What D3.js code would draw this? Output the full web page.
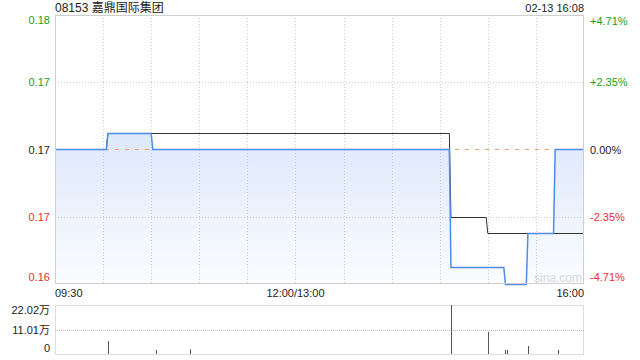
<!DOCTYPE html>
<html><head><meta charset="utf-8">
<script src="https://cdn.jsdelivr.net/npm/d3@7"></script>
<style>
html,body{margin:0;padding:0;background:#fff;}
svg{display:block;font-family:"Liberation Sans",Arial,"Noto Sans CJK SC",sans-serif;}
</style></head>
<body>
<svg id="c" width="640" height="360"></svg>
<script>
// ---- data ----
const title = "08153 嘉鼎国际集团";
const stamp = "02-13 16:08";
const prevClose = 0.170;
const pctRange = 0.0471;
const timeLabels = ["09:30", "12:00/13:00", "16:00"];
const priceTimes = ["09:30","10:02","10:03","10:30","10:31","14:36","14:37","15:10","15:11","15:24","15:25","15:41","15:42","16:00"];
const priceValues = [0.170,0.170,0.171,0.171,0.170,0.170,0.163,0.163,0.162,0.162,0.165,0.165,0.170,0.170];
const avgTimes = ["09:30","10:02","10:03","14:36","14:37","14:59","15:00","16:00"];
const avgValues = [0.170,0.170,0.171,0.171,0.166,0.166,0.165,0.165];
const volTimes = ["10:03","10:33","10:54","14:37","15:00","15:11","15:12","15:25","15:44"];
const volValues = [58000,18000,21000,220200,100000,19000,19000,36000,18000];
const volMax = 220200;

// ---- helpers ----
function minuteIdx(s){
  const [h,m] = s.split(":").map(Number);
  let t = h*60+m-570;
  if (h*60+m >= 780) t -= 60;
  return t;
}
const svg = d3.select("#c");
const L = 55, R = 584, T = 15, B = 284;
const VT = 305, VB = 354;
const x = d3.scaleLinear().domain([0,330]).range([L,R]);
const y = d3.scaleLinear().domain([prevClose*(1-pctRange), prevClose*(1+pctRange)]).range([B,T]);
const yv = d3.scaleLinear().domain([0, volMax]).range([VB,VT]);
const green = "#1a9e1a", red = "#ee2c2c", black = "#222";

// gradient
const defs = svg.append("defs");
const g = defs.append("linearGradient").attr("id","fill").attr("x1",0).attr("y1",0).attr("x2",0).attr("y2",1);
g.append("stop").attr("offset","0%").attr("stop-color","#dde8fb");
g.append("stop").attr("offset","100%").attr("stop-color","#fbfcff");

const pricePts = priceTimes.map((t,i)=>[minuteIdx(t), priceValues[i]]);
const avgPts = avgTimes.map((t,i)=>[minuteIdx(t), avgValues[i]]);

// area
svg.append("path").datum(pricePts)
  .attr("d", d3.area().x(d=>x(d[0])).y0(B).y1(d=>y(d[1])))
  .attr("fill","url(#fill)");

// grid lines
const yTicks = [-1,-0.5,0,0.5,1].map(k=>prevClose*(1+k*pctRange));
const grid = svg.append("g").attr("stroke","#ccc").attr("stroke-dasharray","1,2").attr("stroke-width",1);
[yTicks[1], yTicks[3]].forEach(v=>{
  grid.append("line").attr("x1",L).attr("x2",R).attr("y1",Math.round(y(v))+0.5).attr("y2",Math.round(y(v))+0.5);
});
d3.range(30,330,30).forEach(t=>{
  grid.append("line").attr("x1",Math.round(x(t))+0.5).attr("x2",Math.round(x(t))+0.5).attr("y1",T).attr("y2",B);
});

// prev close dashed line
svg.append("line").attr("x1",L).attr("x2",R).attr("y1",Math.round(y(prevClose))+0.5).attr("y2",Math.round(y(prevClose))+0.5)
  .attr("stroke","#f0a070").attr("stroke-dasharray","4,6").attr("stroke-width",1);

// avg line
svg.append("path").datum(avgPts)
  .attr("d", d3.line().x(d=>x(d[0])).y(d=>Math.round(y(d[1]))+0.5))
  .attr("fill","none").attr("stroke","#333").attr("stroke-width",1);
// price line
svg.append("path").datum(pricePts)
  .attr("d", d3.line().x(d=>x(d[0])).y(d=>Math.round(y(d[1]))+0.5))
  .attr("fill","none").attr("stroke","#4f8be8").attr("stroke-width",1.5);

// frame
svg.append("rect").attr("x",L+0.5).attr("y",T+0.5).attr("width",R-L-1).attr("height",B-T-1)
  .attr("fill","none").attr("stroke","#cfcfcf");

// watermark
svg.append("text").attr("x",R-2).attr("y",B-2).attr("text-anchor","end")
  .attr("font-size",12).attr("fill","#d8d8d8").text("sina.com");

// title & stamp
svg.append("text").attr("x",L).attr("y",12).attr("font-size",12).attr("fill","#222").text(title);
svg.append("text").attr("x",R).attr("y",12).attr("text-anchor","end").attr("font-size",11).attr("fill","#222").text(stamp);

// left / right labels
const cols = [red, red, black, green, green];
const fmtP = d3.format(".2f");
yTicks.forEach((v,i)=>{
  let yy = y(v) + 4;
  if (i===4) yy = y(v) + 9;
  if (i===0) yy = y(v) - 3;
  svg.append("text").attr("x",L-5).attr("y",yy).attr("text-anchor","end").attr("font-size",11)
    .attr("fill",cols[i]).text(fmtP(v));
  const pct = (v/prevClose-1)*100;
  const lbl = (pct>0.001?"+":"") + (Math.abs(pct)<0.001?"0.00":pct.toFixed(2)) + "%";
  svg.append("text").attr("x",R+6).attr("y",yy+ (i===4?1:0)).attr("text-anchor","start").attr("font-size",11)
    .attr("fill",cols[i]).text(lbl);
});

// time labels
const tl = svg.append("g").attr("font-size",11).attr("fill","#222");
tl.append("text").attr("x",L).attr("y",297).attr("text-anchor","start").text(timeLabels[0]);
tl.append("text").attr("x",x(150)).attr("y",297).attr("text-anchor","middle").text(timeLabels[1]);
tl.append("text").attr("x",R).attr("y",297).attr("text-anchor","end").text(timeLabels[2]);

// volume frame (dotted)
const vg = svg.append("g").attr("stroke","#bbb").attr("stroke-dasharray","1,1").attr("fill","none");
vg.append("rect").attr("x",L+0.5).attr("y",VT+0.5).attr("width",R-L-1).attr("height",VB-VT);
vg.append("line").attr("x1",L).attr("x2",R).attr("y1",Math.round(yv(volMax/2))+0.5).attr("y2",Math.round(yv(volMax/2))+0.5);

// volume bars
svg.append("g").selectAll("line").data(volTimes.map((t,i)=>[minuteIdx(t), volValues[i]])).join("line")
  .attr("x1",d=>Math.round(x(d[0]))+0.5).attr("x2",d=>Math.round(x(d[0]))+0.5)
  .attr("y1",VB).attr("y2",d=>yv(d[1]))
  .attr("stroke","#555").attr("stroke-width",1);

// volume labels
const fmtV = v => v===0 ? "0" : (v/10000).toFixed(2) + "万";
[[volMax, VT+9],[volMax/2, yv(volMax/2)+4],[0, VB-2]].forEach(([v,yy])=>{
  svg.append("text").attr("x",L-5).attr("y",yy).attr("text-anchor","end").attr("font-size",11)
    .attr("fill","#222").text(fmtV(v));
});
</script>
</body></html>
